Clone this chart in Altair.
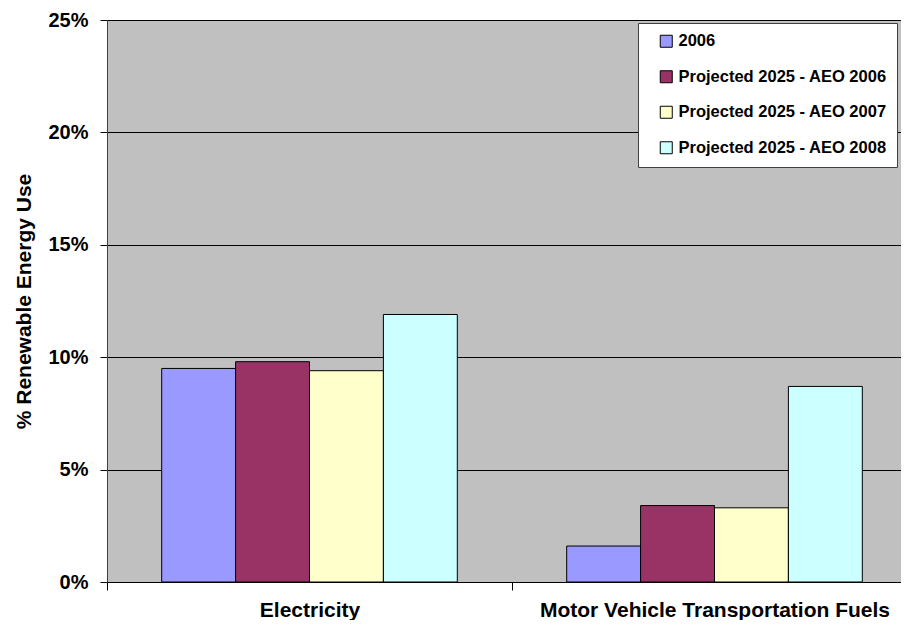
import altair as alt
import pandas as pd

categories = ["Electricity", "Motor Vehicle Transportation Fuels"]
series = ["2006", "Projected 2025 - AEO 2006", "Projected 2025 - AEO 2007", "Projected 2025 - AEO 2008"]
colors = ["#9999FF", "#993366", "#FFFFCC", "#CCFFFF"]
electricity = [9.5, 9.8, 9.4, 11.9]
motor_fuels = [1.6, 3.4, 3.3, 8.7]
y_ticks = [0, 5, 10, 15, 20, 25]

rows = []
for s, e, m in zip(series, electricity, motor_fuels):
    rows.append({"category": categories[0], "series": s, "value": e})
    rows.append({"category": categories[1], "series": s, "value": m})
df = pd.DataFrame(rows)

FONT = "Liberation Sans"

chart = alt.Chart(df).mark_bar(stroke="black", strokeWidth=1).encode(
    x=alt.X("category:N", sort=categories, title=None,
            scale=alt.Scale(paddingInner=0, paddingOuter=0, range=[0, 810]),
            axis=alt.Axis(labelAngle=0, tickBand="extent", tickSize=8, tickColor="#000000",
                          domainColor="#000000", labelPadding=9, labelFontSize=21,
                          labelFont=FONT, labelFontWeight="bold", labelColor="#000000",
                          labelLimit=600, grid=False)),
    xOffset=alt.XOffset("series:N", sort=series,
                        scale=alt.Scale(paddingInner=0, paddingOuter=0.74)),
    y=alt.Y("value:Q", title="% Renewable Energy Use",
            scale=alt.Scale(domain=[0, 25], nice=False),
            axis=alt.Axis(values=y_ticks, labelExpr="datum.value + '%'",
                          tickSize=7, tickColor="#000000", domainColor="#404040",
                          gridColor="#000000", gridWidth=1, labelPadding=12,
                          labelFontSize=20, labelFont=FONT, labelFontWeight="bold", labelColor="#000000",
                          titleFontSize=21, titleFont=FONT, titleFontWeight="bold", titleColor="#000000",
                          titlePadding=13)),
    color=alt.Color("series:N", sort=series, scale=alt.Scale(domain=series, range=colors),
                    legend=alt.Legend(title=None, orient="none", legendX=531, legendY=3,
                                      fillColor="#FFFFFF", strokeColor="#404040", padding=10,
                                      symbolOffset=10, symbolType="square", symbolSize=144,
                                      symbolStrokeColor="#000000", symbolStrokeWidth=1,
                                      labelFont=FONT, labelFontWeight="bold", labelFontSize=16.5,
                                      labelColor="#000000", rowPadding=18.5, labelOffset=4,
                                      labelLimit=400)),
).properties(
    width=794, height=562,
    autosize=alt.AutoSizeParams(type="none"),
    padding={"left": 99, "top": 12, "right": 0, "bottom": 38},
).configure_view(
    fill="#C0C0C0", stroke="#808080", strokeWidth=1
)

chart.save("out.html", embed_options={"renderer": "svg", "actions": False})
